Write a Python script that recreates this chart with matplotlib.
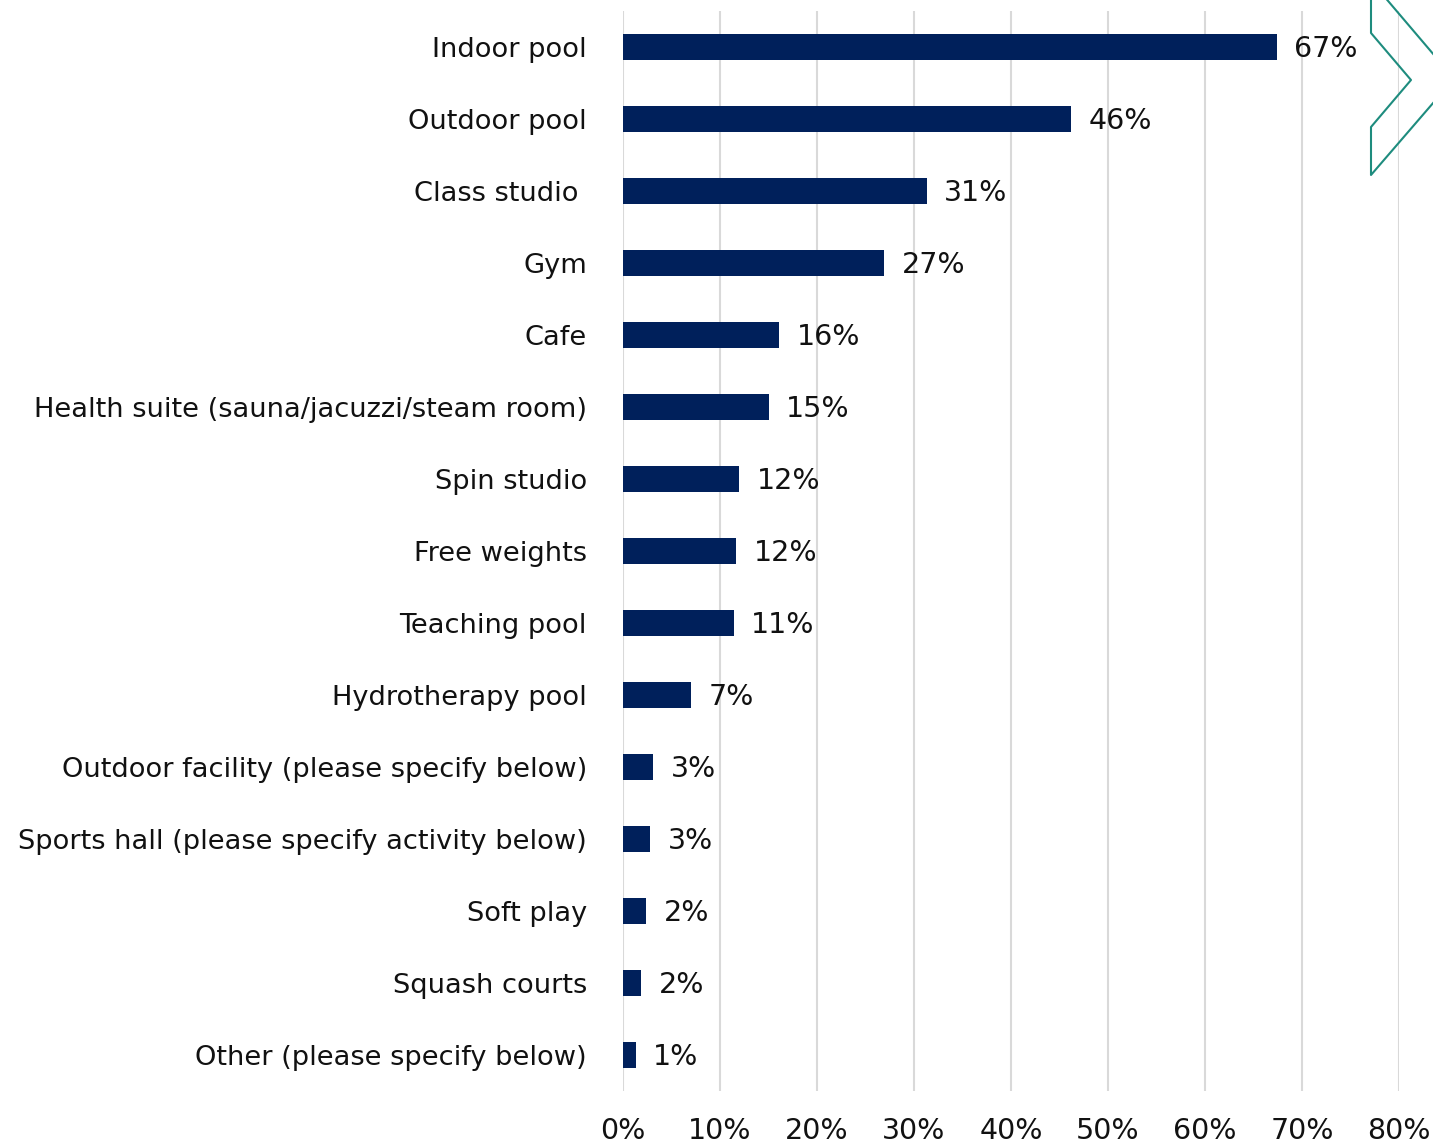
import numpy as np
import matplotlib
matplotlib.use("Agg")
import matplotlib.pyplot as plt
from matplotlib.lines import Line2D

categories = [
    "Indoor pool",
    "Outdoor pool",
    "Class studio ",
    "Gym",
    "Cafe",
    "Health suite (sauna/jacuzzi/steam room)",
    "Spin studio",
    "Free weights",
    "Teaching pool",
    "Hydrotherapy pool",
    "Outdoor facility (please specify below)",
    "Sports hall (please specify activity below)",
    "Soft play",
    "Squash courts",
    "Other (please specify below)",
]
values = [67.4, 46.2, 31.3, 26.9, 16.1, 15.0, 12.0, 11.7, 11.4, 7.0, 3.1, 2.8, 2.4, 1.9, 1.3]
labels = ["67%", "46%", "31%", "27%", "16%", "15%", "12%", "12%", "11%", "7%",
          "3%", "3%", "2%", "2%", "1%"]
xticks = [0, 10, 20, 30, 40, 50, 60, 70, 80]

W, H = 1433, 1147
fs = 20.5
fig = plt.figure(figsize=(W / 100, H / 100), dpi=100)
ax = fig.add_axes([623 / W, 1 - 1091 / H, (1399 - 623) / W, (1091 - 11) / H])

y = np.arange(len(categories))
ax.barh(y, values, height=0.36, color="#00205B", zorder=3)
for yi, v, lab in zip(y, values, labels):
    ax.text(v + 1.8, yi + 0.03, lab, va="center", ha="left", fontsize=fs, color="#111111")

ax.set_ylim(len(categories) - 0.5, -0.5)
ax.set_xlim(0, 80)
ax.set_yticks(y)
ax.set_yticklabels(categories, fontsize=19.6, color="#111111")
ax.set_xticks(xticks)
ax.set_xticklabels([f"{t}%" for t in xticks], fontsize=fs, color="#111111")
ax.tick_params(axis="y", length=0, pad=26)
ax.tick_params(axis="x", length=0, pad=19)
ax.grid(axis="x", color="#d9d9d9", linewidth=1.5, zorder=0)
for s in ax.spines.values():
    s.set_visible(False)

# decorative chevron in the top right corner
def px(xs, ys):
    return [x / W for x in xs], [1 - yy / H for yy in ys]

teal = "#1E8C7E"
for xs, ys in [
    ([1371, 1371, 1411, 1371, 1371, 1440], [-5, 33, 80, 127, 175, 95]),
    ([1383, 1440], [-5, 62]),
]:
    fx, fy = px(xs, ys)
    fig.add_artist(Line2D(fx, fy, color=teal, linewidth=1.5, transform=fig.transFigure))

fig.savefig("out.png", dpi=100)
